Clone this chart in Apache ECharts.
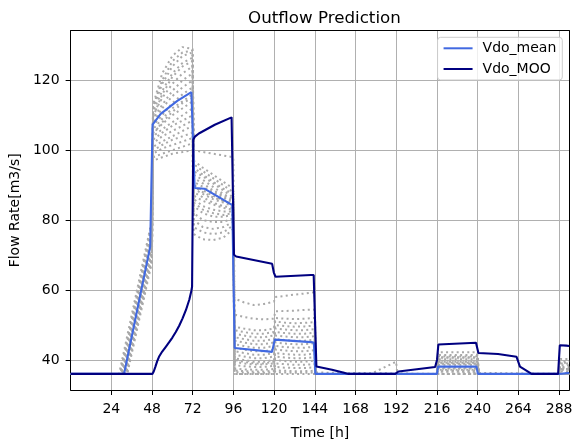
<!DOCTYPE html>
<html>
<head>
<meta charset="utf-8">
<script src="https://cdn.jsdelivr.net/npm/echarts@6/dist/echarts.min.js"></script>
<style>
  html, body { margin: 0; padding: 0; background: #ffffff; }
  #chart { width: 577px; height: 445px; }
</style>
</head>
<body>
<div id="chart"></div>
<script>
// Axis ticks
const xTicks = [24, 48, 72, 96, 120, 144, 168, 192, 216, 240, 264, 288];
const yTicks = [40, 60, 80, 100, 120];

// Mean of the ensemble outflow, [hour, m3/s]
const meanFlow = [
  [0, 36], [31.5, 36], [46.9, 72.4], [48.3, 107.3], [53.1, 110.4], [62.9, 114.1],
  [71.2, 116.6], [72.2, 116.6], [73.1, 89.2], [78.8, 89.0], [88.4, 86.3], [95.3, 84.3],
  [96.7, 43.4], [97.6, 43.2], [118.8, 42.3], [119.6, 42.3], [120.3, 45.8], [141.8, 45.1],
  [143.4, 45.0], [144.3, 36], [216.0, 36], [216.6, 38.1], [239.3, 38.1], [240.1, 36],
  [288.0, 36], [288.6, 36.3], [294, 36.3]
];

// Optimised (MOO) outflow, [hour, m3/s]
const mooFlow = [
  [0, 36], [48.2, 36], [49.0, 36.7], [50.0, 38.1], [51.0, 39.6], [52.1, 40.9], [54.0, 42.4],
  [56.0, 43.7], [58.0, 45.0], [60.0, 46.4], [62.0, 48.0], [64.0, 49.8], [66.0, 51.9],
  [68.0, 54.3], [70.0, 57.3], [71.2, 59.8], [71.6, 61.0], [72.3, 103.0], [73.3, 103.9],
  [75.6, 104.8], [85.0, 107.3], [94.9, 109.4], [95.3, 109.4], [96.3, 70.1], [97.6, 69.6],
  [118.8, 67.5], [119.8, 65.0], [120.8, 63.8], [141.7, 64.3], [143.3, 64.3], [144.9, 38.1],
  [154.1, 37.2], [160.0, 36.5], [163.9, 36], [191.4, 36], [193.3, 36.7], [214.9, 38.0],
  [216.0, 40.0], [216.8, 44.4], [239.0, 44.9], [240.4, 42.0], [252.0, 41.7], [262.9, 40.9],
  [264.9, 38.1], [271.8, 36], [287.4, 36], [288.4, 44.2], [289.5, 44.5], [292.3, 44.1],
  [294, 44.0]
];

// Ensemble members: hour at which each member leaves the base flow
const riseStart = [28.6, 29.0, 29.3, 29.7, 30.0, 30.3, 30.6, 30.9, 31.2, 31.5,
                   31.8, 32.0, 32.3, 32.6, 32.9, 33.1, 33.4, 29.5, 31.0, 32.5];

// Hours at which every member's flow is listed in ensembleFlows
const ensembleHours = [47.9, 48.6, 54, 60, 66, 71.9, 72.6, 78, 84, 90, 95.9,
                       96.6, 102, 108, 114, 119.9, 120.6, 126, 132, 138, 143.9];

const ensembleFlows = [
  [80.0, 113, 122, 127, 129.5, 129, 100, 99.5, 99, 98.5, 98, 57.6, 56.5, 55.7, 56, 56.7, 58, 58.3, 58.7, 59, 59.4],
  [77.6, 112, 119, 124, 127, 128, 96, 94, 92, 90, 88, 53, 52.3, 51.8, 51.6, 51.8, 53.9, 54, 54.1, 54.3, 54.4],
  [76.9, 111, 117, 122, 125, 126.5, 95, 93, 91, 89, 87.5, 49.5, 49, 48.5, 48.5, 49, 52, 51.8, 51.7, 51.8, 52],
  [76.0, 110, 115, 119, 122, 124, 94, 92.5, 90.5, 88.5, 86.5, 48.5, 48, 47.5, 47.5, 48, 51, 50.7, 50.5, 50.6, 50.8],
  [75.4, 109, 113, 117, 120, 122, 93, 91.5, 89.5, 87.5, 86, 47.5, 47, 46.5, 46.5, 47, 50, 49.7, 49.5, 49.6, 49.8],
  [74.7, 108, 112, 115.5, 118, 120, 92, 90.5, 88.5, 87, 85.5, 46.5, 46, 45.5, 45.5, 46, 49, 48.7, 48.5, 48.5, 48.8],
  [74.1, 107, 110, 113.5, 116, 118, 91, 89.5, 88, 86.5, 85, 45.5, 45, 44.5, 44.5, 45, 48, 47.7, 47.5, 47.5, 47.8],
  [73.4, 106, 109, 112, 114, 116, 90, 88.5, 87, 85.5, 84.5, 44.5, 44, 43.5, 43.5, 44, 47, 46.7, 46.5, 46.5, 46.8],
  [72.7, 105, 107.5, 110, 112, 114, 89, 87.5, 86, 85, 84, 43.5, 43, 42.5, 42.5, 43, 46, 45.7, 45.5, 45.5, 45.8],
  [72.1, 104, 106, 108, 110, 112, 88, 86.5, 85, 84, 83.5, 42.5, 42, 41.5, 41.5, 42, 45, 44.7, 44.5, 44.5, 44.8],
  [71.4, 103, 105, 107, 108.5, 110, 87, 85.5, 84.5, 83.5, 83, 41.5, 41, 40.5, 40.5, 41, 44, 43.7, 43.5, 43.5, 43.8],
  [71.0, 102, 104, 105.5, 107, 108.5, 86, 84, 83, 82.5, 82.5, 40.5, 40, 39.5, 39.5, 40, 43, 42.7, 42.5, 42.5, 42.8],
  [70.3, 101, 102.5, 104, 105.5, 107, 84, 82, 81, 81, 81.5, 39.5, 39, 38.7, 38.7, 39, 42, 41.7, 41.5, 41.5, 41.8],
  [69.7, 100, 101.5, 103, 104, 105, 82, 80, 79.5, 79.5, 80.5, 38.5, 38.2, 38, 38, 38.3, 41, 40.7, 40.5, 40.5, 40.8],
  [69.0, 99, 100.5, 101.5, 102.5, 103.5, 80, 78, 77.5, 78, 79.5, 37.5, 37.3, 37.2, 37.2, 37.4, 40, 39.7, 39.5, 39.5, 39.8],
  [68.6, 98, 99, 100, 101, 102, 78, 76.5, 76, 76.5, 78.5, 36.5, 36.4, 36.3, 36.3, 36.5, 39, 38.8, 38.6, 38.6, 38.8],
  [67.9, 97, 98, 99, 99.5, 100, 76, 74.5, 74.3, 75, 77.5, 36, 36, 36, 36, 36, 38, 37.8, 37.7, 37.7, 37.9],
  [79.0, 112.5, 120, 125.5, 128, 128.5, 97, 95, 93, 91, 89, 36, 36, 36, 36, 36, 37, 36.9, 36.8, 36.8, 36.9],
  [73.2, 109.5, 116, 121, 124, 125.5, 85, 83, 82, 81.5, 82, 37, 36.8, 36.7, 36.7, 36.9, 36, 36, 36, 36, 36],
  [69.9, 104.5, 108, 111, 113.5, 115, 89.5, 88, 86.5, 85.5, 84.5, 40, 39.5, 39, 39, 39.5, 36.5, 36.4, 36.3, 36.3, 36.4]
];

// Small rise of the first member before hour 192
const firstMemberBump = [[177, 36], [191.9, 39.5], [192.6, 36]];

// Member flows during hours 216-240 and after hour 288
const dayTenFlows = [42.2, 41.4, 41.0, 40.6, 40.2, 39.8, 39.5, 39.2, 38.9, 38.6,
                     37.5, 37.2, 36.9, 36.6, 36.3, 36.0, 36.0, 40.8, 39.0, 37.8];
const tailFlows = [40.3, 39.6, 39.0, 38.5, 38.0, 37.6, 37.2, 36.8, 36.4, 36.0,
                   36.0, 36.0, 36.0, 36.0, 36.0, 36.0, 36.0, 39.2, 37.4, 36.2];

const FONT = 'DejaVu Sans';

function memberPoints(i) {
  const pts = [[0, 36], [riseStart[i], 36]];
  ensembleHours.forEach((h, k) => pts.push([h, ensembleFlows[i][k]]));
  pts.push([144.6, 36]);
  if (i === 0) firstMemberBump.forEach(p => pts.push(p));
  pts.push([215.9, 36], [216.6, dayTenFlows[i]], [239.9, dayTenFlows[i]], [240.6, 36],
           [287.9, 36], [288.6, tailFlows[i]], [294, tailFlows[i]]);
  return pts;
}

const series = [];
ensembleFlows.forEach((_, i) => {
  series.push({
    name: 'member' + (i + 1),
    type: 'line',
    data: memberPoints(i),
    showSymbol: false,
    symbol: 'none',
    silent: true,
    lineStyle: { color: '#a9a9a9', width: 2, type: [2, 3.3], cap: 'butt' },
    z: 2
  });
});
series.push({
  name: 'Vdo_mean', type: 'line', data: meanFlow, symbol: 'none', showSymbol: false,
  lineStyle: { color: '#4169e1', width: 2.1 }, itemStyle: { color: '#4169e1' }, z: 3
});
series.push({
  name: 'Vdo_MOO', type: 'line', data: mooFlow, symbol: 'none', showSymbol: false,
  lineStyle: { color: '#000080', width: 2.1 }, itemStyle: { color: '#000080' }, z: 4
});

const chart = echarts.init(document.getElementById('chart'), null, { renderer: 'canvas' });
chart.setOption({
  animation: false,
  backgroundColor: '#ffffff',
  textStyle: { fontFamily: FONT },
  title: {
    text: 'Outflow Prediction',
    left: 243, top: 5,
    textStyle: { fontFamily: FONT, fontSize: 16.7, fontWeight: 'normal', color: '#000' }
  },
  legend: {
    data: ['Vdo_mean', 'Vdo_MOO'],
    orient: 'vertical',
    right: 14.7, top: 37.3,
    backgroundColor: 'rgba(255,255,255,0.8)',
    borderColor: '#cccccc', borderWidth: 1, borderRadius: 3,
    padding: [4, 6, 4, 5],
    itemWidth: 29, itemHeight: 14, itemGap: 6.7,
    selectedMode: false,
    itemStyle: { opacity: 0 },
    textStyle: { fontFamily: FONT, fontSize: 14, color: '#000', padding: [0, 0, 0, 5] }
  },
  grid: { left: 69.7, right: 7.7, top: 30.7, bottom: 44 },
  xAxis: [{
    type: 'value', min: 0, max: 294, interval: 24,
    name: 'Time [h]', nameLocation: 'middle', nameGap: 36,
    nameTextStyle: { fontFamily: FONT, fontSize: 14, color: '#000' },
    axisLine: { show: true, onZero: false, lineStyle: { color: '#000', width: 1 } },
    axisTick: { show: true, length: 5, customValues: xTicks, lineStyle: { color: '#000' } },
    axisLabel: { customValues: xTicks, margin: 12, fontFamily: FONT, fontSize: 14, color: '#000' },
    splitLine: { show: true, lineStyle: { color: '#b0b0b0', width: 1 } }
  }, {
    type: 'value', min: 0, max: 294, position: 'top',
    axisLine: { show: true, onZero: false, lineStyle: { color: '#000', width: 1 } },
    axisTick: { show: false }, axisLabel: { show: false }, splitLine: { show: false }
  }],
  yAxis: [{
    type: 'value', min: 31.4, max: 134.2, splitNumber: 5,
    name: 'Flow Rate[m3/s]', nameLocation: 'middle', nameGap: 33,
    nameTextStyle: { fontFamily: FONT, fontSize: 14, color: '#000' },
    axisLine: { show: true, onZero: false, lineStyle: { color: '#000', width: 1 } },
    axisTick: { show: true, length: 5, customValues: yTicks, lineStyle: { color: '#000' } },
    axisLabel: { customValues: yTicks, margin: 11, fontFamily: FONT, fontSize: 14, color: '#000' },
    splitLine: { show: true, lineStyle: { color: '#b0b0b0', width: 1 } }
  }, {
    type: 'value', min: 31.4, max: 134.2, position: 'right',
    axisLine: { show: true, onZero: false, lineStyle: { color: '#000', width: 1 } },
    axisTick: { show: false }, axisLabel: { show: false }, splitLine: { show: false }
  }],
  series: series
});
</script>
</body>
</html>
